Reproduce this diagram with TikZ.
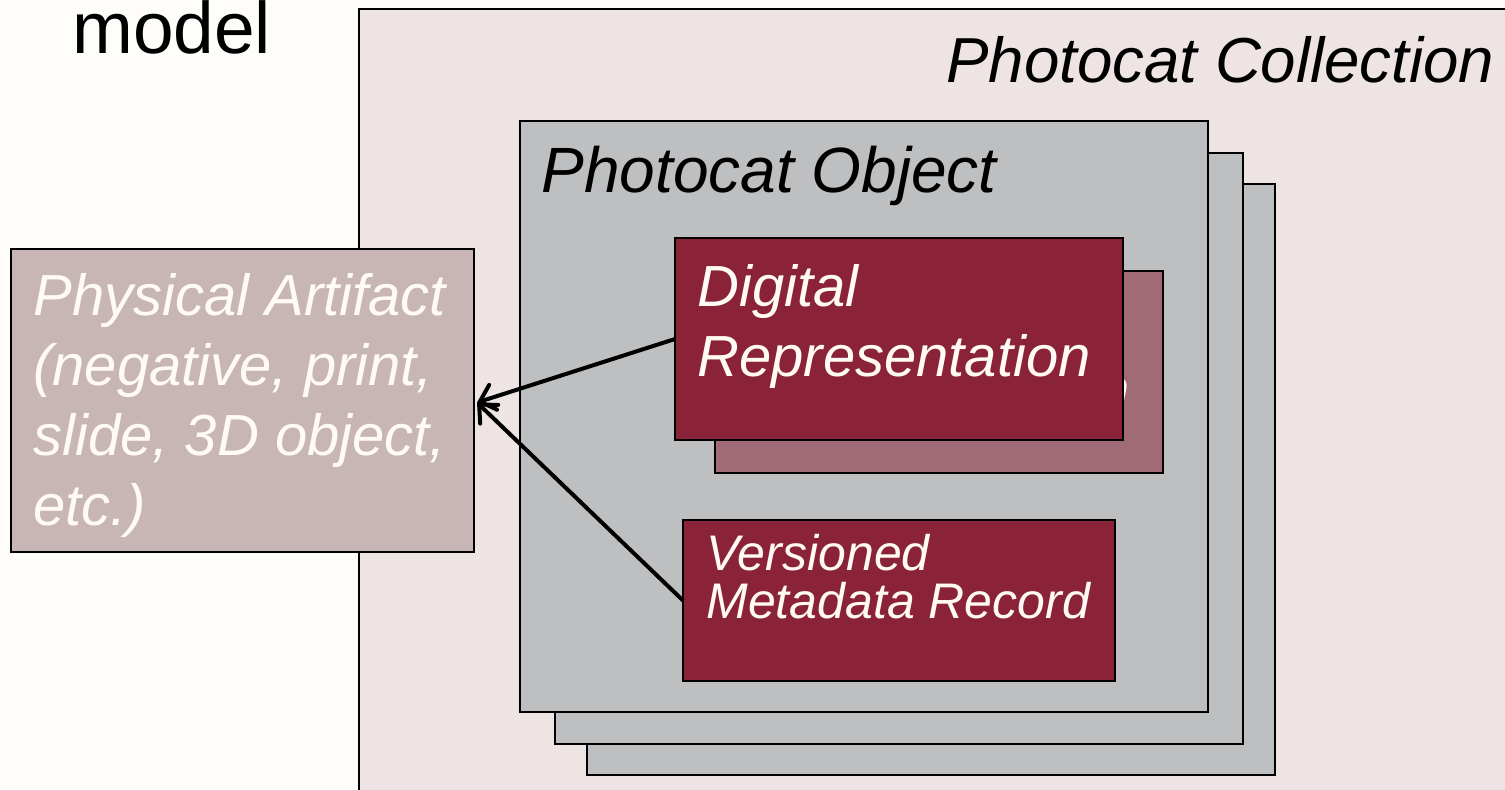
\documentclass[tikz,border=0pt]{standalone}
\usepackage{fontspec}
\setmainfont{Liberation Sans}
\usetikzlibrary{arrows.meta,positioning}

\definecolor{pagebg}{HTML}{FEFDFA}
\definecolor{collbg}{HTML}{EDE4E3}
\definecolor{objgray}{HTML}{BEBFC1}
\definecolor{darkred}{HTML}{8A2238}
\definecolor{fadedred}{HTML}{A06B77}
\definecolor{artifact}{HTML}{C8B6B7}
\definecolor{lighttxt}{HTML}{FFFAF4}

\begin{document}
\begin{tikzpicture}[x=0.5pt,y=-0.5pt,
  box/.style={draw=black,line width=1pt,anchor=north west,inner sep=0pt,outer sep=0pt},
  lbl/.style={anchor=base west,inner sep=0pt,align=left,font=\itshape\fontsize{29}{35}\selectfont},
  link/.style={line width=2pt,-{Straight Barb[length=7pt,width=13pt,line cap=round]}}]
\useasboundingbox (0,0) rectangle (1505,789);
\clip (0,0) rectangle (1505,789);
\fill[pagebg] (0,0) rectangle (1505,789);

\node[anchor=base west,inner sep=0pt,font=\fontsize{36.5}{44}\selectfont] (model) at (72,53) {model};

% collection
\node[box,fill=collbg,minimum width=600pt,minimum height=400pt] (coll) at (359,9) {};
\node[lbl,font=\itshape\fontsize{31.8}{38}\selectfont] (colltxt) at (946,82) {Photocat Collection};

% stacked objects
\foreach \i/\x/\y in {3/587/184,2/555/153,1/520/121}
  \node[box,fill=objgray,minimum width=344pt,minimum height=295.5pt] (obj\i) at (\x,\y) {};
\node[lbl,font=\itshape\fontsize{32}{38}\selectfont] (objtxt) at (541,192) {Photocat Object};

% digital representations (last line on the baseline)
\node[box,fill=fadedred,minimum width=224pt,minimum height=101pt] (drback) at (715,271) {};
\node[lbl,text=lighttxt] (drbacktxt) at (736,409) {Digital\\Representation};
\node[box,fill=darkred,minimum width=224pt,minimum height=101pt] (dr) at (675,238) {};
\node[lbl,text=lighttxt] (drtxt) at (697,376) {Digital\\Representation};

% metadata
\node[box,fill=darkred,minimum width=216pt,minimum height=80.5pt] (vm) at (683,520) {};
\node[lbl,text=lighttxt,font=\itshape\fontsize{25}{24}\selectfont] (vmtxt) at (706,618) {Versioned\\Metadata Record};

% physical artifact
\node[box,fill=artifact,minimum width=231.5pt,minimum height=151.5pt] (pa) at (11,249) {};
\node[lbl,text=lighttxt] (patxt) at (33,525) {Physical Artifact\\(negative, print,\\slide, 3D object,\\etc.)};

\coordinate (tip) at ([xshift=1.5pt,yshift=-1pt]pa.east);
\draw[link] (dr.west) -- (tip);
\draw[link] (vm.west) -- (tip);
\end{tikzpicture}
\end{document}
